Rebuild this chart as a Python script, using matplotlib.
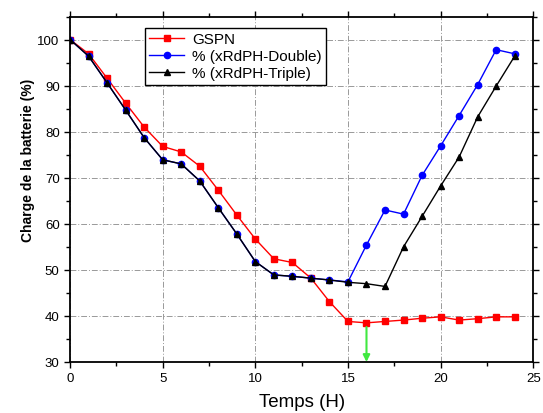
import matplotlib
matplotlib.use("Agg")
import matplotlib.pyplot as plt
from matplotlib.ticker import MultipleLocator

plt.rcParams['font.family'] = ['Liberation Sans', 'DejaVu Sans']

hours = list(range(25))
gspn = [100, 96.9, 91.6, 86.2, 81.0, 76.8, 75.6, 72.5, 67.3, 61.9, 56.7, 52.4, 51.6,
        48.2, 43.1, 38.8, 38.5, 38.8, 39.1, 39.5, 39.8, 39.1, 39.4, 39.8, 39.8]
triple = [100, 96.4, 90.6, 84.7, 78.7, 73.9, 73.0, 69.3, 63.5, 57.8, 51.8, 48.9, 48.6,
          48.2, 47.8, 47.3, 47.0, 46.4, 55.0, 61.6, 68.2, 74.5, 83.2, 89.9, 96.4]
double = triple[:15] + [47.4, 55.4, 63.0, 62.1, 70.5, 76.9, 83.5, 90.2, 97.8, 96.9]
arrow_hour = 16

fig = plt.figure(figsize=(5.43, 4.14), dpi=100)
ax = fig.add_axes([0.129, 0.1232, 0.853, 0.8345])

ax.plot(hours, gspn, color='red', lw=1.0, marker='s', ms=4.5, label='GSPN')
ax.plot(hours, double, color='blue', lw=1.0, marker='o', ms=4.5, label='% (xRdPH-Double)')
ax.plot(hours, triple, color='black', lw=1.0, marker='^', ms=5, label='% (xRdPH-Triple)')

ax.annotate('', xy=(arrow_hour, 30), xytext=(arrow_hour, 37.6),
            arrowprops=dict(arrowstyle='-|>', color='#40e840', lw=1.5, mutation_scale=10,
                            shrinkA=0, shrinkB=0))

ax.set_xlim(0, 25)
ax.set_ylim(30, 105)
ax.xaxis.set_major_locator(MultipleLocator(5))
ax.xaxis.set_minor_locator(MultipleLocator(2.5))
ax.yaxis.set_major_locator(MultipleLocator(10))
ax.yaxis.set_minor_locator(MultipleLocator(5))
ax.tick_params(which='both', direction='out', top=True, right=True, labelsize=9.5, width=1.0)
ax.tick_params(which='major', length=4)
ax.tick_params(which='minor', length=3)
for s in ax.spines.values():
    s.set_linewidth(1.3)

ax.grid(True, which='major', color='#999999', ls=(0, (6, 2, 1, 2)), lw=0.7)

ax.set_xlabel('Temps (H)', fontsize=13.5, labelpad=6)
ax.set_ylabel('Charge de la batterie (%)', fontsize=10, fontweight='bold')
ax.yaxis.set_label_coords(-0.075, 0.587)

leg = ax.legend(loc='upper left', bbox_to_anchor=(0.161, 0.968), fontsize=11, frameon=True,
                fancybox=False, framealpha=1, edgecolor='black', handlelength=2.3,
                borderpad=0.3, labelspacing=0.2, handletextpad=0.5, borderaxespad=0)
leg.get_frame().set_linewidth(1.0)

fig.savefig('out.png', dpi=100)
